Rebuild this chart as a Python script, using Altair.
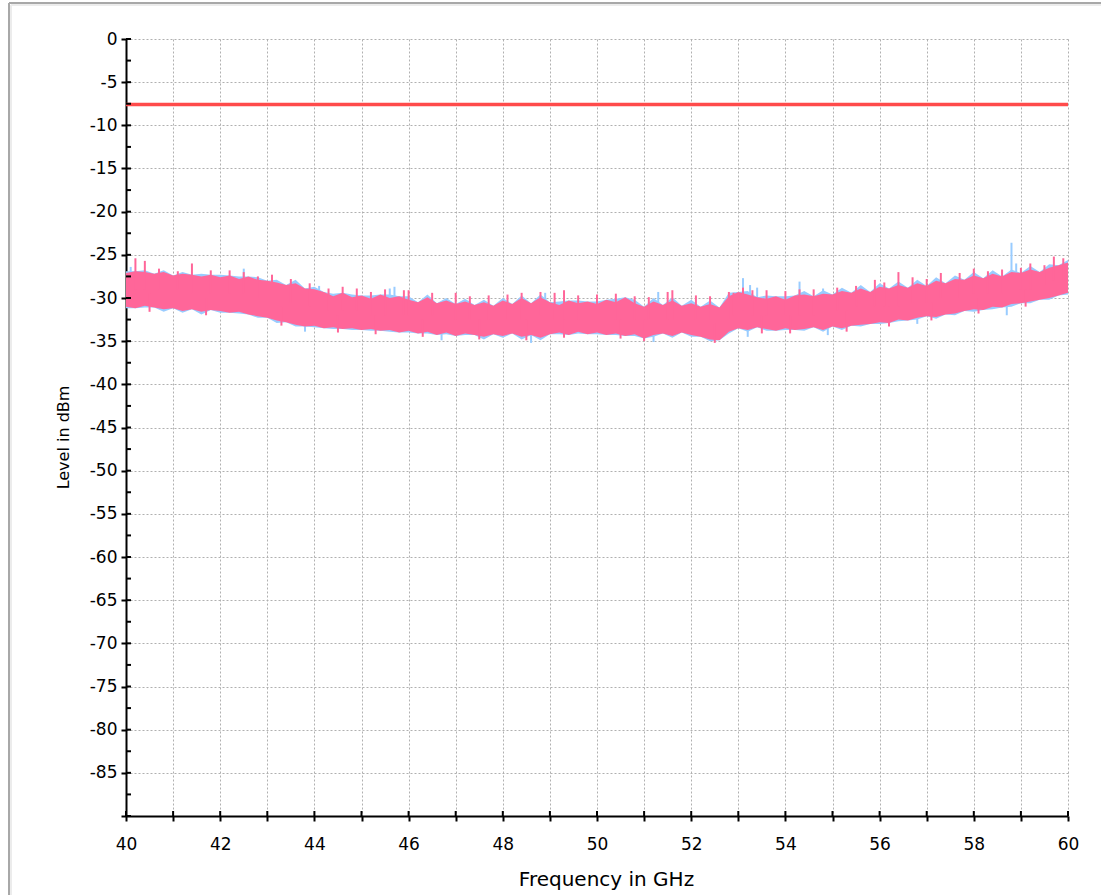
import altair as alt
import pandas as pd

# ---------------- data ----------------
freq_start = 40.0
freq_step = 0.2
n_pts = 101
freq = [round(freq_start + freq_step * i, 1) for i in range(n_pts)]

# pink trace envelope (upper / lower edge of the noisy band), dBm
pink_hi = [-27.1, -26.9, -27.0, -27.2, -27.0, -27.4, -27.2, -27.3, -27.5, -27.3,
           -27.6, -27.4, -27.8, -27.5, -27.9, -28.0, -28.2, -28.5, -28.3, -28.9,
           -29.0, -29.3, -29.8, -29.4, -29.9, -29.7, -30.1, -29.6, -30.0, -29.8,
           -30.2, -30.5, -29.9, -30.6, -30.3, -30.7, -30.4, -30.8, -30.5, -30.9,
           -30.3, -30.7, -30.0, -30.6, -29.9, -30.5, -30.8, -30.3, -30.6, -30.4,
           -30.7, -30.2, -30.5, -29.9, -30.6, -31.0, -30.4, -30.8, -30.3, -30.9,
           -30.6, -31.0, -30.7, -31.1, -29.8, -29.3, -29.6, -29.9, -30.1, -29.8,
           -30.2, -29.7, -29.6, -29.8, -29.5, -29.6, -29.2, -29.4, -28.9, -29.3,
           -28.7, -28.9, -28.5, -28.8, -28.3, -28.6, -28.0, -28.3, -27.8, -27.9,
           -27.4, -27.7, -27.2, -27.5, -27.0, -27.1, -26.7, -27.0, -26.5, -26.2,
           -25.9]
pink_lo = [-31.0, -31.2, -30.9, -31.1, -31.3, -31.2, -31.5, -31.3, -31.6, -31.4,
           -31.5, -31.7, -31.6, -31.9, -32.1, -32.3, -32.6, -32.8, -33.1, -33.3,
           -33.2, -33.5, -33.4, -33.6, -33.5, -33.7, -33.6, -33.8, -33.7, -34.0,
           -33.8, -34.1, -33.9, -34.3, -34.0, -34.4, -34.1, -34.3, -34.5, -34.2,
           -34.4, -34.1, -34.5, -34.3, -34.6, -34.2, -34.0, -34.3, -33.9, -34.2,
           -34.0, -34.3, -34.1, -34.4, -34.2, -34.7, -34.3, -34.1, -34.4, -34.0,
           -34.3, -34.5, -34.8, -34.9, -33.9, -33.5, -33.7, -33.4, -33.6, -33.8,
           -33.5, -33.7, -33.6, -33.4, -33.7, -33.3, -33.5, -33.2, -33.1, -33.0,
           -32.8, -32.9, -32.5, -32.6, -32.3, -32.1, -32.2, -31.9, -31.8, -31.5,
           -31.3, -31.4, -31.0, -31.1, -30.7, -30.6, -30.4, -30.2, -30.0, -29.7,
           -29.4]

# blue trace envelope (drawn behind, peeks out here and there)
blue_hi = [-26.9, -26.9, -26.8, -27.2, -26.8, -27.4, -27.0, -27.3, -27.2, -27.3,
           -27.3, -27.4, -27.5, -27.5, -27.6, -28.0, -27.9, -28.5, -27.9, -28.9,
           -28.7, -29.3, -29.5, -29.4, -29.6, -29.7, -29.7, -29.6, -29.6, -29.8,
           -29.8, -30.5, -29.6, -30.6, -30.0, -30.7, -30.1, -30.8, -30.2, -30.9,
           -30.0, -30.7, -29.7, -30.6, -29.6, -30.5, -30.4, -30.3, -30.3, -30.4,
           -30.4, -30.2, -30.1, -29.9, -30.2, -31.0, -30.0, -30.8, -29.9, -30.9,
           -30.2, -31.0, -30.3, -31.1, -29.4, -29.3, -29.2, -29.9, -29.7, -29.8,
           -29.8, -29.7, -29.2, -29.8, -29.1, -29.6, -28.8, -29.4, -28.5, -29.3,
           -28.3, -28.9, -28.1, -28.8, -27.9, -28.6, -27.6, -28.3, -27.4, -27.9,
           -27.0, -27.7, -26.8, -27.5, -26.7, -27.1, -26.3, -27.0, -26.1, -26.2,
           -25.6]
blue_lo = [-31.2, -31.2, -31.1, -31.1, -31.6, -31.2, -31.7, -31.3, -31.9, -31.4,
           -31.7, -31.7, -31.8, -31.9, -32.3, -32.3, -32.9, -32.8, -33.3, -33.3,
           -33.4, -33.5, -33.6, -33.6, -33.7, -33.7, -33.8, -33.8, -33.9, -34.0,
           -34.0, -34.1, -34.1, -34.3, -34.2, -34.4, -34.3, -34.3, -34.8, -34.2,
           -34.6, -34.1, -34.8, -34.3, -34.9, -34.2, -34.2, -34.3, -34.1, -34.2,
           -34.2, -34.3, -34.3, -34.4, -34.4, -34.7, -34.5, -34.1, -34.6, -34.0,
           -34.5, -34.5, -35.0, -34.9, -34.1, -33.5, -33.9, -33.4, -33.8, -33.8,
           -33.7, -33.7, -33.8, -33.4, -33.9, -33.3, -33.7, -33.2, -33.3, -33.0,
           -33.0, -32.9, -32.7, -32.6, -32.5, -32.1, -32.4, -31.9, -32.0, -31.5,
           -31.6, -31.4, -31.3, -31.1, -31.0, -30.6, -30.6, -30.2, -30.2, -29.7,
           -29.6]

# narrow spikes poking out of the band: (frequency, outer end, inner end)
pink_spike_f = [40.2, 40.4, 41.4, 42.2, 42.8, 43.1, 44.9, 45.5, 46.0, 47.0,
                48.4, 49.1, 49.3, 51.5, 51.6, 52.8, 52.9, 53.3, 53.6, 54.3,
                55.9, 56.4, 56.7, 57.3, 57.7, 58.0, 59.2, 59.7, 59.9,
                40.7, 41.1, 41.8, 42.5, 43.5, 43.9, 44.3, 44.6, 45.2, 45.9,
                46.5, 47.3, 47.7, 48.1, 48.8, 49.6, 50.0, 50.4, 50.8, 51.1,
                52.1, 52.4, 53.1, 54.0, 54.6, 55.1, 55.5, 56.1, 57.0, 58.3,
                58.6, 59.0, 59.5,
                40.5, 41.7, 43.3, 44.5, 45.3, 46.3, 47.5, 48.5, 49.3, 50.5,
                51.0, 52.5, 53.5, 54.1, 55.3, 56.2, 57.1, 58.1, 59.1]
pink_spike_top = [-25.4, -25.7, -26.0, -26.8, -27.5, -27.3, -28.9, -29.0, -29.1, -29.4,
                  -29.4, -29.4, -29.1, -29.3, -29.1, -29.3, -29.4, -29.1, -29.1, -29.0,
                  -27.9, -27.0, -27.6, -27.1, -27.1, -26.6, -26.0, -25.2, -25.4,
                  -26.6, -26.9, -26.8, -27.0, -27.8, -28.3, -28.9, -28.7, -29.3, -29.1,
                  -29.4, -29.8, -29.7, -29.6, -29.3, -29.7, -29.6, -29.5, -29.8, -29.9,
                  -29.7, -29.8, -28.8, -29.2, -29.0, -28.8, -28.6, -28.2, -27.8, -26.9,
                  -26.7, -26.5, -26.2,
                  -29.5, -30.0, -31.0, -32.0, -32.0, -32.5, -32.5, -32.5, -32.5, -32.5,
                  -32.5, -33.0, -32.0, -32.0, -31.5, -31.0, -30.5, -30.0, -29.0]
pink_spike_base = [-29.0, -29.0, -29.5, -29.5, -30.0, -30.0, -31.5, -32.0, -32.0, -32.5,
                   -32.5, -32.5, -32.5, -32.5, -32.5, -32.5, -32.0, -32.0, -32.0, -32.0,
                   -31.0, -31.0, -30.5, -30.0, -30.0, -29.5, -29.0, -28.0, -28.0,
                   -29.0, -29.0, -29.5, -29.5, -30.5, -31.0, -31.5, -31.5, -32.0, -32.0,
                   -32.0, -32.5, -32.5, -32.5, -32.0, -32.5, -32.5, -32.5, -32.5, -32.5,
                   -32.5, -32.5, -31.5, -32.0, -32.0, -31.5, -31.0, -31.0, -30.5, -29.5,
                   -29.5, -29.0, -28.5,
                   -31.6, -32.0, -33.2, -34.0, -34.2, -34.5, -34.8, -34.9, -34.6, -34.7,
                   -35.0, -35.2, -34.1, -34.1, -33.9, -33.3, -32.6, -31.8, -31.0]
blue_spike_f = [40.1, 42.5, 44.1, 45.6, 45.7, 48.9, 51.3, 53.1, 53.25, 53.4,
                54.3, 54.8, 58.8, 58.9,
                43.8, 46.7, 48.6, 51.2, 53.2, 54.9, 56.8, 58.7]
blue_spike_top = [-26.4, -26.6, -28.6, -28.9, -28.7, -29.4, -29.3, -27.7, -28.5, -28.8,
                  -28.1, -28.9, -23.6, -26.0,
                  -32.0, -33.0, -33.0, -33.0, -32.0, -32.0, -31.0, -30.0]
blue_spike_base = [-29.0, -29.5, -31.0, -32.0, -32.0, -32.5, -32.5, -31.5, -31.5, -31.5,
                   -31.5, -31.5, -29.0, -29.0,
                   -33.9, -34.9, -35.2, -35.1, -34.5, -34.3, -33.0, -32.0]

limit_level = [-7.6]

x_ticks = [40 + i for i in range(21)]
y_ticks = [-2.5 * i for i in range(37)]

# ---------------- layout ----------------
W, H = 942, 777
PAD = {"left": 126, "top": 39, "right": 33, "bottom": 79}

PINK = "#ff6699"
BLUE = "#99ccff"
RED = "#ff4b4b"
FONT = "DejaVu Sans"
GRID = "#b0b0b0"

x_scale = alt.Scale(domain=[40, 60], nice=False, zero=False)
y_scale = alt.Scale(domain=[-90, 0], nice=False, zero=False)

x_axis = alt.Axis(
    values=x_ticks,
    labelExpr="datum.value % 2 == 0 ? datum.label : ''",
    title="Frequency in GHz",
    titleFontSize=20, titleFontWeight="normal", titleFont=FONT, titleColor="black",
    titleX=480, titleY=69, titleBaseline="alphabetic", titleAnchor="middle",
    labelFontSize=17, labelFont=FONT, labelColor="black", labelPadding=15,
    labelFlush=False,
    tickSize=5, tickColor="black", tickWidth=2,
    domainColor="black", domainWidth=2,
    grid=True, gridColor=GRID, gridDash=[2, 2], gridWidth=1,
)
y_axis = alt.Axis(
    values=y_ticks,
    labelExpr="(datum.value % 5 == 0 && datum.value > -90) ? (datum.value < 0 ? '-' + format(-datum.value, 'd') : '0') : ''",
    title="Level in dBm",
    titleFontSize=16, titleFontWeight="normal", titleFont=FONT, titleColor="black",
    titleX=-58, titleY=398, titleAngle=-90, titleBaseline="alphabetic", titleAnchor="middle",
    labelFontSize=17, labelFont=FONT, labelColor="black", labelPadding=4,
    labelFlush=False,
    tickSize=5, tickColor="black", tickWidth=2,
    domainColor="black", domainWidth=2,
    grid=True, gridColor=GRID, gridDash=[2, 2], gridWidth=1,
)

blue_df = pd.DataFrame({"f": freq, "hi": blue_hi, "lo": blue_lo})
pink_df = pd.DataFrame({"f": freq, "hi": pink_hi, "lo": pink_lo})
bspk_df = pd.DataFrame({"f": blue_spike_f, "top": blue_spike_top, "base": blue_spike_base})
pspk_df = pd.DataFrame({"f": pink_spike_f, "top": pink_spike_top, "base": pink_spike_base})
lim_df = pd.DataFrame({"level": limit_level, "f0": [40], "f1": [60]})
xt_df = pd.DataFrame({"f": x_ticks})
yt_df = pd.DataFrame({"v": y_ticks})

base_axes = alt.Chart(blue_df).mark_area(color=BLUE, opacity=1).encode(
    x=alt.X("f:Q", scale=x_scale, axis=x_axis),
    y=alt.Y("hi:Q", scale=y_scale, axis=y_axis),
    y2="lo:Q",
)
blue_spikes = alt.Chart(bspk_df).mark_rule(color=BLUE, strokeWidth=2).encode(
    x=alt.X("f:Q", scale=x_scale), y=alt.Y("top:Q", scale=y_scale), y2="base:Q")
pink_area = alt.Chart(pink_df).mark_area(color=PINK, opacity=1).encode(
    x=alt.X("f:Q", scale=x_scale), y=alt.Y("hi:Q", scale=y_scale), y2="lo:Q")
pink_spikes = alt.Chart(pspk_df).mark_rule(color=PINK, strokeWidth=2).encode(
    x=alt.X("f:Q", scale=x_scale), y=alt.Y("top:Q", scale=y_scale), y2="base:Q")
limit = alt.Chart(lim_df).mark_rule(color=RED, strokeWidth=3.5).encode(
    x=alt.X("f0:Q", scale=x_scale), x2="f1:Q", y=alt.Y("level:Q", scale=y_scale))

# inward half of the crossing ticks
x_in = alt.Chart(xt_df).mark_rule(color="black", strokeWidth=2).encode(
    x=alt.X("f:Q", scale=x_scale), y=alt.value(H - 5), y2=alt.value(H))
y_in = alt.Chart(yt_df).mark_rule(color="black", strokeWidth=2).encode(
    y=alt.Y("v:Q", scale=y_scale), x=alt.value(0), x2=alt.value(5))

# outer frame of the picture
one = alt.Data(values=[{"k": 1}])
frame_left = alt.Chart(one).mark_rule(color="#a8a8a8", strokeWidth=2).encode(
    x=alt.value(-117), y=alt.value(-36), y2=alt.value(H + 90))
frame_top = alt.Chart(one).mark_rule(color="#a8a8a8", strokeWidth=2).encode(
    y=alt.value(-36), x=alt.value(-117), x2=alt.value(W + 40))
frame_left_in = alt.Chart(one).mark_rule(color="#ececec", strokeWidth=2).encode(
    x=alt.value(-115), y=alt.value(-34), y2=alt.value(H + 90))
frame_top_in = alt.Chart(one).mark_rule(color="#ececec", strokeWidth=2).encode(
    y=alt.value(-34), x=alt.value(-115), x2=alt.value(W + 40))

chart = alt.layer(
    base_axes, blue_spikes, pink_area, pink_spikes, limit, x_in, y_in,
    frame_left_in, frame_top_in, frame_left, frame_top,
).properties(
    width=W, height=H,
    autosize=alt.AutoSizeParams(type="none"),
    padding=PAD,
    background="white",
).configure_view(stroke=None)

chart.save("out.html", embed_options={"renderer": "svg", "actions": False})
